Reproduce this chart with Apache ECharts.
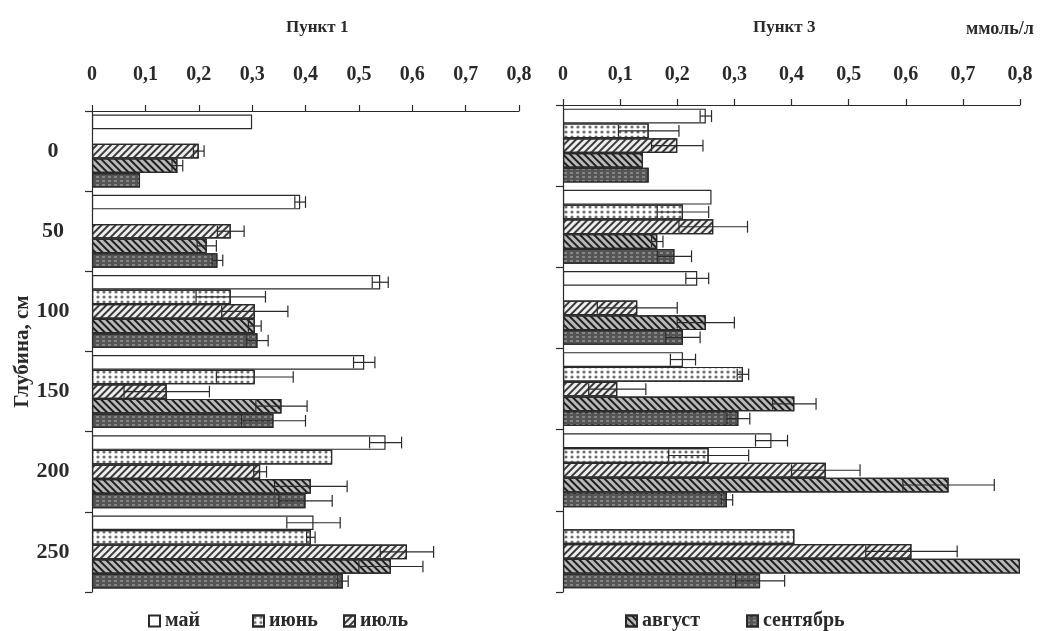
<!DOCTYPE html>
<html>
<head>
<meta charset="utf-8">
<script src="https://cdn.jsdelivr.net/npm/echarts@6/dist/echarts.min.js"></script>
<style>
  html, body { margin: 0; padding: 0; background: #ffffff; }
  #chart { width: 1056px; height: 631px; }
</style>
</head>
<body>
<div id="chart"></div>
<script>
// Depth categories (cm) and sampling months
const depths = ['0', '50', '100', '150', '200', '250'];
const months = ['май', 'июнь', 'июль', 'август', 'сентябрь'];

// Пункт 1: concentrations, mmol/l, and their error half-widths
const p1May    = [0.30, 0.39, 0.54, 0.51, 0.55, 0.415];
const p1MayErr = [0, 0.01, 0.015, 0.02, 0.03, 0.05];
const p1Jun    = [null, null, 0.26, 0.305, 0.45, 0.41];
const p1JunErr = [0, 0, 0.065, 0.072, 0, 0.008];
const p1Jul    = [0.20, 0.26, 0.305, 0.14, 0.315, 0.59];
const p1JulErr = [0.01, 0.025, 0.062, 0.08, 0.012, 0.05];
const p1Aug    = [0.16, 0.215, 0.305, 0.355, 0.41, 0.56];
const p1AugErr = [0.01, 0.018, 0.012, 0.048, 0.068, 0.06];
const p1Sep    = [0.09, 0.235, 0.31, 0.34, 0.40, 0.47];
const p1SepErr = [0, 0.01, 0.02, 0.06, 0.05, 0.01];

// Пункт 3
const p3May    = [0.25, 0.26, 0.235, 0.21, 0.365, null];
const p3MayErr = [0.01, 0, 0.02, 0.022, 0.028, 0];
const p3Jun    = [0.15, 0.21, null, 0.315, 0.255, 0.405];
const p3JunErr = [0.053, 0.045, 0, 0.01, 0.07, 0];
const p3Jul    = [0.20, 0.263, 0.13, 0.095, 0.46, 0.61];
const p3JulErr = [0.045, 0.06, 0.07, 0.05, 0.06, 0.08];
const p3Aug    = [0.14, 0.165, 0.25, 0.405, 0.675, 0.80];
const p3AugErr = [0, 0.01, 0.05, 0.038, 0.08, 0];
const p3Sep    = [0.15, 0.195, 0.21, 0.307, 0.287, 0.345];
const p3SepErr = [0, 0.03, 0.03, 0.02, 0.01, 0.043];

const FONT = '"Liberation Serif", "DejaVu Serif", serif';
const INK = '#2a2a2a';
const CAT_GAP = 0.09;

// Fill patterns for each month
const monthStyles = [
  { color: '#ffffff' },
  { color: '#ffffff', decal: { symbol: 'circle', symbolSize: 0.8, color: '#6e6e6e', dashArrayX: [4, 2], dashArrayY: [4, 1] } },
  { color: '#eeeeee', decal: { symbol: 'rect', symbolSize: 1, color: '#3a3a3a', dashArrayX: [1, 0], dashArrayY: [2, 3], rotation: -Math.PI / 4 } },
  { color: '#b8b8b8', decal: { symbol: 'rect', symbolSize: 1, color: '#1e1e1e', dashArrayX: [1, 0], dashArrayY: [2, 2.5], rotation: Math.PI / 4 } },
  { color: '#555555', decal: { symbol: 'rect', symbolSize: 1, color: '#858585', dashArrayX: [3, 3], dashArrayY: [2, 2] } }
];

// Legend placement (left edge of each entry)
const legendLeft = [143, 247, 338, 620, 741];

const panels = [
  {
    grid: { left: 92, top: 111, width: 427, height: 481 },
    values: [p1May, p1Jun, p1Jul, p1Aug, p1Sep],
    errs: [p1MayErr, p1JunErr, p1JulErr, p1AugErr, p1SepErr],
    labels: true, labelMargin: 26
  },
  {
    grid: { left: 563, top: 105, width: 457, height: 487 },
    values: [p3May, p3Jun, p3Jul, p3Aug, p3Sep],
    errs: [p3MayErr, p3JunErr, p3JulErr, p3AugErr, p3SepErr],
    labels: false, labelMargin: 20
  }
];

const grids = [], xAxes = [], yAxes = [], series = [];

panels.forEach((p, pi) => {
  grids.push(Object.assign({ containLabel: false, outerBoundsMode: 'none' }, p.grid));
  xAxes.push({
    type: 'value', gridIndex: pi, position: 'top',
    min: 0, max: 0.8, interval: 0.1,
    axisLine: { show: true, lineStyle: { color: INK, width: 1.2 } },
    axisTick: { show: true, length: 6, lineStyle: { color: INK, width: 1.2 } },
    splitLine: { show: false },
    axisLabel: {
      margin: p.labelMargin, color: INK, fontFamily: FONT, fontWeight: 'bold', fontSize: 20,
      formatter: v => (v === 0 ? '0' : v.toFixed(1).replace('.', ','))
    }
  });
  yAxes.push({
    type: 'category', gridIndex: pi, inverse: true, data: depths,
    axisLine: { show: true, lineStyle: { color: INK, width: 1.2 } },
    axisTick: { show: true, length: 7, lineStyle: { color: INK, width: 1.2 } },
    splitLine: { show: false },
    axisLabel: {
      show: p.labels, align: 'center', margin: 39,
      color: INK, fontFamily: FONT, fontWeight: 'bold', fontSize: 22
    },
    name: p.labels ? 'Глубина, см' : '',
    nameLocation: 'middle', nameRotate: 90, nameGap: 54,
    nameTextStyle: { color: INK, fontFamily: FONT, fontWeight: 'bold', fontSize: 21 }
  });

  months.forEach((m, k) => {
    const st = monthStyles[k];
    series.push({
      type: 'bar', name: m, xAxisIndex: pi, yAxisIndex: pi,
      data: p.values[k],
      barGap: '0%', barCategoryGap: (CAT_GAP * 100) + '%',
      itemStyle: Object.assign({ borderColor: INK, borderWidth: 1.2 }, st),
      emphasis: { disabled: true },
      z: 2
    });
    const errData = [];
    p.values[k].forEach((v, i) => {
      const e = p.errs[k][i];
      if (v != null && e > 0) errData.push([i, v, e]);
    });
    series.push({
      type: 'custom', xAxisIndex: pi, yAxisIndex: pi,
      encode: { x: 1, y: 0 },
      data: errData, z: 3, silent: true,
      renderItem: (params, api) => {
        const c = api.value(0), v = api.value(1), e = api.value(2);
        const lo = api.coord([v - e, c]);
        const hi = api.coord([v + e, c]);
        const band = api.size([0, 1])[1];
        const bw = band * (1 - CAT_GAP) / months.length;
        const y = lo[1] + (k - (months.length - 1) / 2) * bw;
        const cap = bw * 0.4;
        const s = { stroke: INK, lineWidth: 1.2 };
        return {
          type: 'group',
          children: [
            { type: 'line', shape: { x1: lo[0], y1: y, x2: hi[0], y2: y }, style: s },
            { type: 'line', shape: { x1: lo[0], y1: y - cap, x2: lo[0], y2: y + cap }, style: s },
            { type: 'line', shape: { x1: hi[0], y1: y - cap, x2: hi[0], y2: y + cap }, style: s }
          ]
        };
      }
    });
  });
});

const legendText = { color: INK, fontFamily: FONT, fontWeight: 'bold', fontSize: 20 };

const option = {
  backgroundColor: '#ffffff',
  animation: false,
  grid: grids,
  xAxis: xAxes,
  yAxis: yAxes,
  series: series,
  legend: months.map((m, k) => ({
    left: legendLeft[k], top: 606, itemWidth: 11, itemHeight: 11, itemGap: 0,
    icon: 'rect', data: [m], textStyle: legendText, selectedMode: false
  })),
  graphic: [
    { type: 'text', left: 286, top: 19,
      style: { text: 'Пункт 1', fill: INK, font: 'bold 17px ' + FONT } },
    { type: 'text', left: 753, top: 19,
      style: { text: 'Пункт 3', fill: INK, font: 'bold 17px ' + FONT } },
    { type: 'text', left: 966, top: 20,
      style: { text: 'ммоль/л', fill: INK, font: 'bold 18px ' + FONT } }
  ]
};

const chart = echarts.init(document.getElementById('chart'), null, { renderer: 'canvas' });
chart.setOption(option);
</script>
</body>
</html>
